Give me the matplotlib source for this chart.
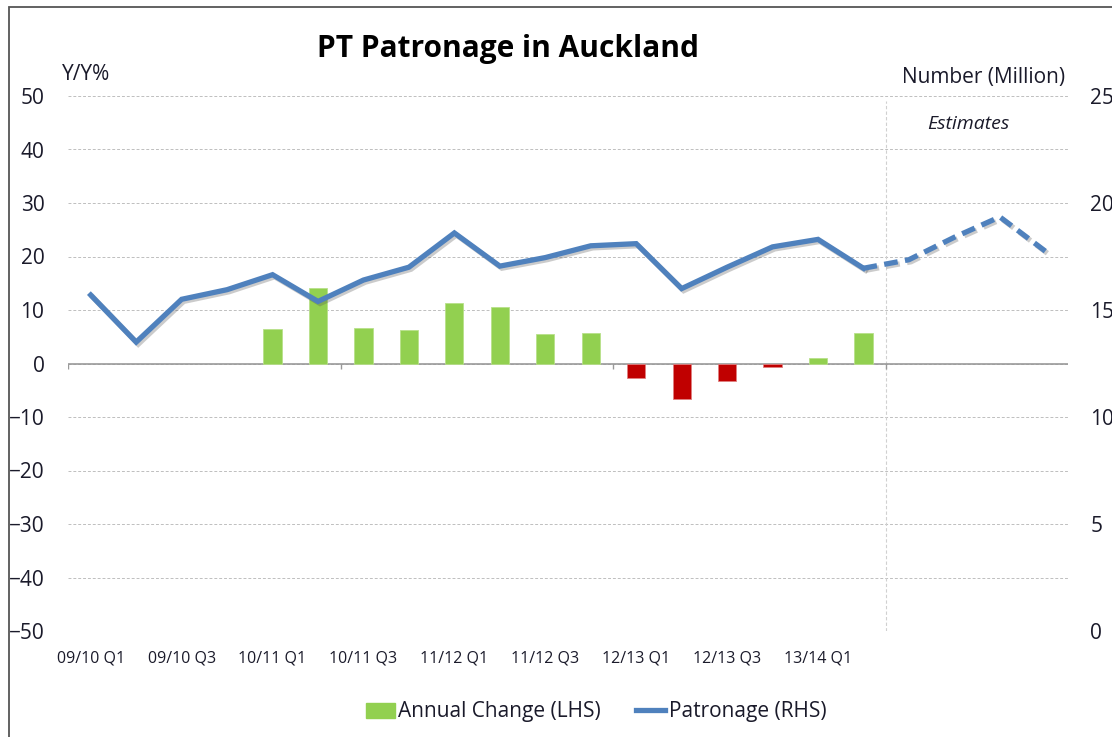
import matplotlib
matplotlib.use("Agg")
import matplotlib.pyplot as plt
import matplotlib.patheffects as pe
from matplotlib.patches import Rectangle, Patch
from matplotlib.lines import Line2D
import numpy as np

plt.rcParams['font.family'] = ['Open Sans', 'DejaVu Sans']

# ---- data ----
years = ["09/10", "10/11", "11/12", "12/13", "13/14", "14/15"]
categories = [f"{y} Q{q}" for y in years for q in range(1, 5)][:22]
shown_labels = ["09/10 Q1", "09/10 Q3", "10/11 Q1", "10/11 Q3", "11/12 Q1",
                "11/12 Q3", "12/13 Q1", "12/13 Q3", "13/14 Q1"]

# Annual change (LHS, %), None where no bar
annual_change = [None, None, None, None, 6.4, 14.2, 6.6, 6.2, 11.3, 10.6, 5.5, 5.7,
                 -2.8, -6.6, -3.2, -0.6, 1.0, 5.7, None, None, None, None]

# Patronage (RHS, million): actual then estimates
patronage_actual = [15.7, 13.5, 15.5, 15.95, 16.65, 15.4, 16.4, 17.0, 18.6, 17.05,
                    17.45, 18.0, 18.1, 16.0, 17.0, 17.95, 18.3, 16.95]
patronage_estimate = [16.95, 17.35, 18.4, 19.35, 17.75]  # from 13/14 Q2 to 14/15 Q2

# ---- figure ----
W, H = 1112, 737
fig = plt.figure(figsize=(W / 100, H / 100), dpi=100)
fig.patches.append(Rectangle((9 / W, -0.5), 1.5, 0.5 + 1 - 7 / H, transform=fig.transFigure,
                             fill=False, edgecolor='#555555', linewidth=1.3))

ax = fig.add_axes([68 / W, 1 - 631 / H, 1000 / W, 535 / H])
ax2 = ax.twinx()

n = len(categories)
x = np.arange(n)

green = '#92D050'
red = '#C00000'
blue = '#4F81BD'
txt = '#1a1a2a'

for i, v in enumerate(annual_change):
    if v is None:
        continue
    ax.bar(i, v, width=0.4, color=green if v >= 0 else red,
           edgecolor='#B8E08A' if v >= 0 else '#E08080', linewidth=0.6, zorder=3)

ax.set_xlim(-0.5, n - 0.5)
ax.set_ylim(-50, 50)
ax.set_yticks(np.arange(-50, 51, 10))
ax.grid(axis='y', color='#BFBFBF', linestyle=(0, (3, 2)), linewidth=0.7)
ax.set_axisbelow(True)
for s in ax.spines.values():
    s.set_visible(False)
for s in ax2.spines.values():
    s.set_visible(False)

# zero axis line with boundary ticks
ax.axhline(0, color='#999999', linewidth=1.2, zorder=2)
bounds = [-0.5, 5.5, 11.5, 17.5]
ax.vlines(bounds, -1.0, 0, color='#999999', linewidth=1.0, zorder=2)

# estimates separator
ax.axvline(17.5, ymin=0, ymax=0.99, color='#D0D0D0', linestyle=(0, (3, 2)), linewidth=0.8, zorder=1)

# x tick labels
ax.set_xticks([categories.index(c) for c in shown_labels])
ax.set_xticklabels(shown_labels, fontsize=11.5, color=txt)
ax.tick_params(axis='x', length=0, pad=14)
ax.tick_params(axis='y', length=0, pad=17, labelsize=15, labelcolor=txt)

# line
shadow = [pe.SimpleLineShadow(offset=(1.5, -1.5), shadow_color='#555555', alpha=0.3),
          pe.Normal()]
ax2.plot(x[:len(patronage_actual)], patronage_actual, color=blue, linewidth=3.8,
         solid_joinstyle='miter', path_effects=shadow, zorder=4)
est_x = x[len(patronage_actual) - 1:len(patronage_actual) - 1 + len(patronage_estimate)]
ax2.plot(est_x, patronage_estimate, color=blue, linewidth=3.8,
         linestyle=(0, (2.6, 1.4)), path_effects=shadow, zorder=4)
ax2.set_ylim(0, 25)
ax2.set_yticks(np.arange(0, 26, 5))
ax2.tick_params(axis='y', length=0, pad=16, labelsize=15, labelcolor=txt)

# texts
fig.text(508 / W, 1 - 49 / H, "PT Patronage in Auckland", ha='center', va='center',
         fontsize=21.5, fontweight='bold', color='black')
fig.text(62 / W, 1 - 75 / H, "Y/Y%", ha='left', va='center', fontsize=15, color=txt)
fig.text(1065 / W, 1 - 77 / H, "Number (Million)", ha='right', va='center', fontsize=15,
         color=txt)
ax.text(19.3, 44.8, "Estimates", ha='center', va='center', fontsize=14, style='italic',
        color=txt)

# legend
handles = [Patch(facecolor=green, edgecolor=green),
           Line2D([0], [0], color=blue, linewidth=3.8)]
fig.legend(handles, ["Annual Change (LHS)", "Patronage (RHS)"], loc='center',
           bbox_to_anchor=(596 / W, 1 - 712 / H), ncol=2, frameon=False, fontsize=15,
           handlelength=1.4, handleheight=0.7, handletextpad=0.15, columnspacing=1.7,
           labelcolor=txt)

fig.savefig("out.png", dpi=100)
